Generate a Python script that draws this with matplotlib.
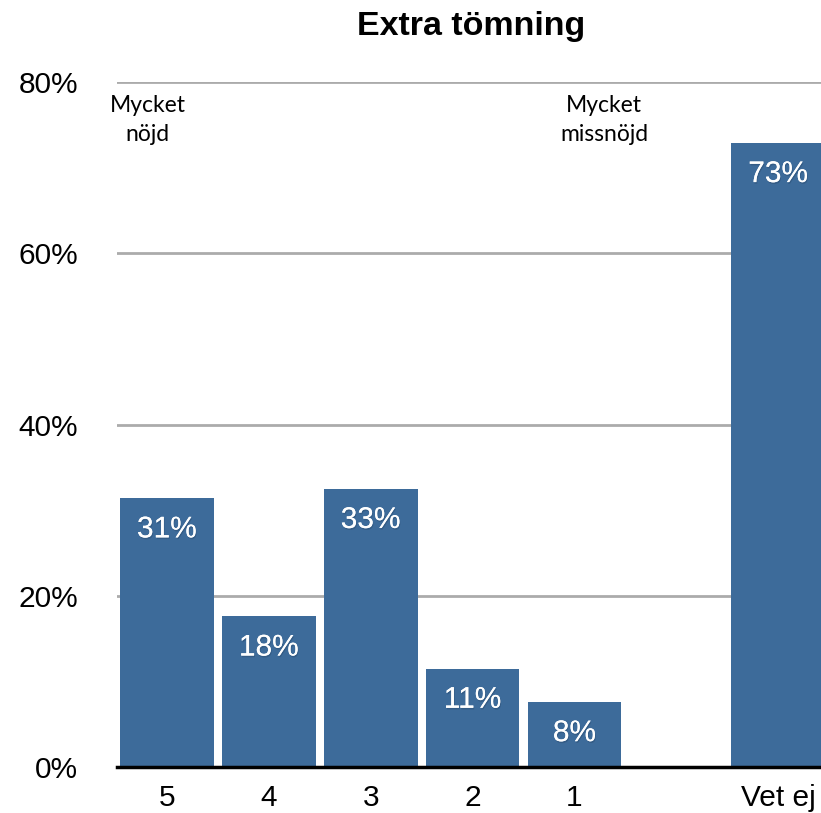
import matplotlib

matplotlib.use("Agg")
import matplotlib.pyplot as plt
import matplotlib.patheffects as pe

# ----------------------------------------------------------------- dati
categorie = ["5", "4", "3", "2", "1", "Vet ej"]
posizioni = [0, 1, 2, 3, 4, 6]  # uno slot vuoto prima di "Vet ej"
valori = [31.4, 17.6, 32.5, 11.5, 7.6, 72.9]
etichette = ["31%", "18%", "33%", "11%", "8%", "73%"]
y_ticks = [0, 20, 40, 60, 80]

BLU = "#3d6b9a"
SANS = ["Liberation Sans", "DejaVu Sans"]
NOTE = ["Lato", "DejaVu Sans"]


def main() -> None:
    fig = plt.figure(figsize=(8.21, 8.13), dpi=100)
    ax = fig.add_axes([0.1425, 0.0566, 0.8575, 0.8425])

    for y in y_ticks[1:]:
        ax.axhline(y, color="#ababab", lw=2, zorder=1)

    ax.bar(posizioni, valori, width=0.92, color=BLU, zorder=2)

    ombra = [pe.withSimplePatchShadow(offset=(0.6, -1.2), shadow_rgbFace="#203a58", alpha=0.3), pe.Normal()]
    for x, v, t in zip(posizioni, valori, etichette):
        ax.annotate(t, (x, v), xytext=(0, -22.5), textcoords="offset points",
                    ha="center", va="center", color="white", fontsize=21.5,
                    family=SANS, zorder=3, path_effects=ombra)

    ax.text(-0.19, 78.5, "Mycket\nnöjd", ha="center", va="top", fontsize=16.5,
            family=NOTE, linespacing=1.45)
    ax.text(4.29, 78.5, "Mycket\nmissnöjd", ha="center", va="top", fontsize=16.5,
            family=NOTE, linespacing=1.45)

    ax.set_xlim(-0.49, 6.42)
    ax.set_ylim(0, 80)
    ax.set_xticks(posizioni)
    ax.set_xticklabels(categorie, family=SANS, fontsize=21.5)
    ax.set_yticks(y_ticks)
    ax.set_yticklabels([f"{v}%" for v in y_ticks], family=SANS, fontsize=21.5)
    ax.tick_params(length=0)
    ax.tick_params(axis="x", pad=12)
    ax.tick_params(axis="y", pad=28)
    for lato in ("left", "right", "top"):
        ax.spines[lato].set_visible(False)
    ax.spines["bottom"].set_linewidth(2.5)
    ax.spines["bottom"].set_zorder(4)

    fig.text(0.574, 0.967, "Extra tömning", ha="center", va="center",
             fontsize=24.5, fontweight="bold", family=SANS)

    fig.savefig("out.png", dpi=100)


if __name__ == "__main__":
    main()
